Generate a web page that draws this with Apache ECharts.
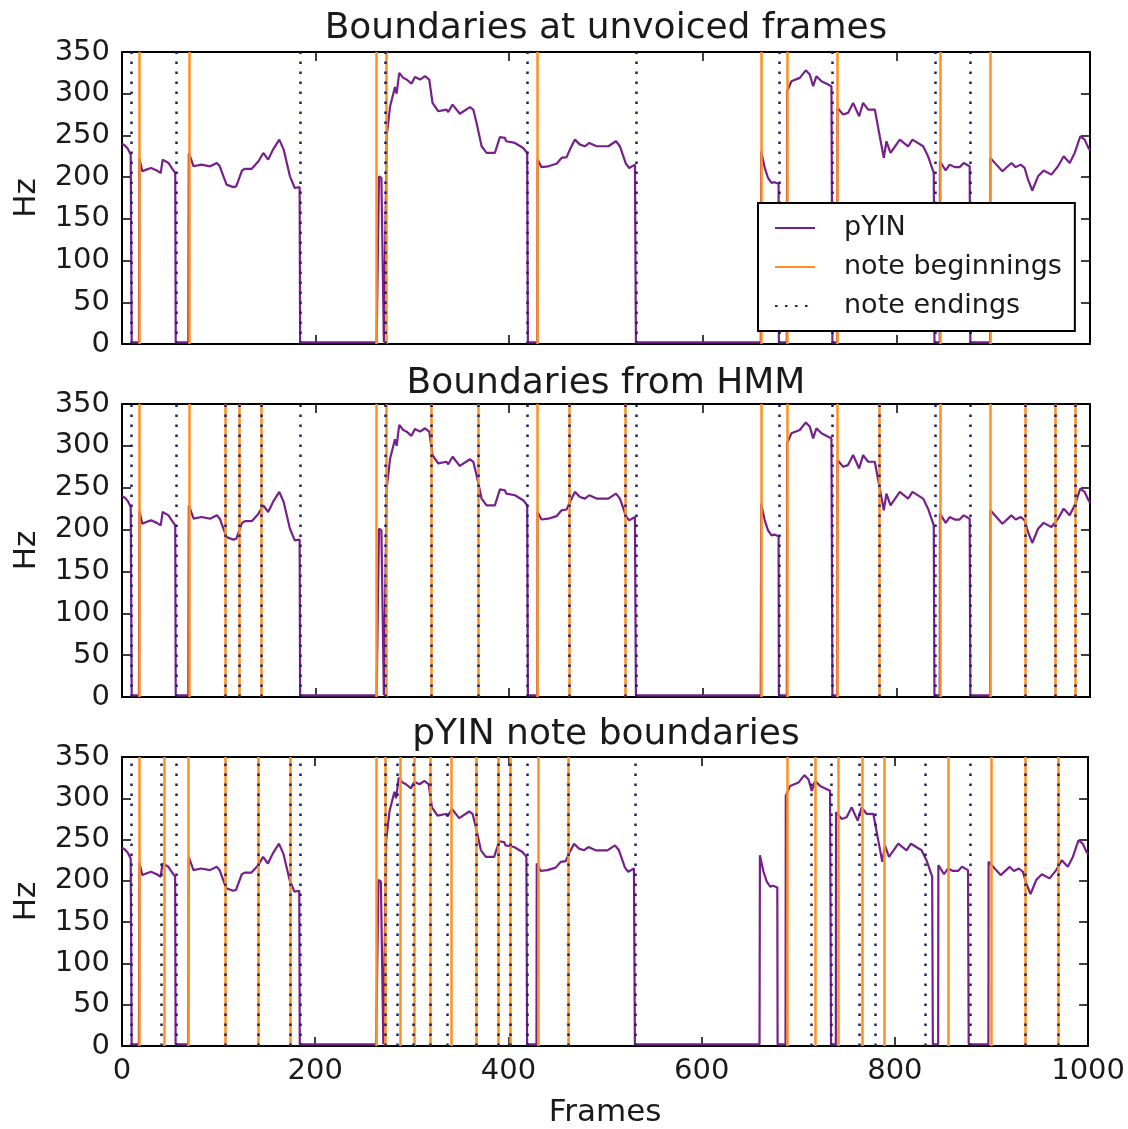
<!DOCTYPE html>
<html>
<head>
<meta charset="utf-8">
<script src="https://cdn.jsdelivr.net/npm/echarts@6/dist/echarts.min.js"></script>
<style>
  html, body { margin: 0; padding: 0; background: #fff; }
  #chart { width: 1128px; height: 1129px; }
</style>
</head>
<body>
<div id="chart"></div>
<script>
// pitch track (frame, Hz); unvoiced frames sit at ~2 Hz
const frames = [0, 3, 6, 9, 10, 17.5, 18, 21, 25, 30, 36, 40, 42, 48, 52, 55, 55.5, 68.5, 69, 74, 82, 91, 98, 101, 108, 115, 118, 124, 127, 134, 141, 146, 151, 156, 162.5, 167, 173.5, 178.5, 183.5, 184,
  263, 265.5, 268, 270, 270.5, 272.5, 273.5, 277, 282, 283.7, 286.4, 290.5, 294, 299, 302.6, 308, 313, 317.4, 320.8, 326.6, 328.4, 335.3, 337, 341.5, 349, 359.4, 362.9, 366.3, 371.5, 376.6, 385.2, 390.4, 395.5, 397, 399, 405.9, 414.5, 418.6, 419.3,
  429, 429.3, 433.4, 440.3, 448.9, 454.1, 459.3, 462.7, 467.9, 473.1, 478.2, 482.7, 490.3, 497.2, 502.4, 510.3, 514.4, 520.6, 524, 529.9, 530.9,
  659.9, 660.3, 664, 667.4, 669, 671, 674, 676, 678.3, 678.6, 686.8, 687.1, 691.6, 700.2, 706.4, 710.5, 714, 717.4, 722.6, 729.5, 732.9, 733.9,
  738.9, 739.1, 745, 750, 755.3, 761.5, 765.6, 770.8, 777.7, 782.8, 787, 789.7, 793.9, 803.5, 812.1, 816.6, 827.6, 832.7, 838.6, 839.3,
  844.8, 845, 850.9, 855, 860.2, 865.3, 869.5, 875.7, 876.4, 896.8, 897, 903.3, 909.5, 918.8, 923.2, 928.4, 932.5, 936, 940.4, 946.3, 952.1, 960.1, 967, 972.8, 979, 984.2, 990, 994.5, 998, 1000];
const pitchHz = [240, 238, 234, 227, 2, 2, 222, 207, 209, 211, 208, 205, 221, 217, 210, 205, 2, 2, 229, 213, 215, 213, 217, 213, 191, 188, 189, 208, 210, 210, 219, 229, 221, 233, 245, 233, 201, 187, 188, 2,
  2, 201, 199, 201, 2, 2, 250, 285, 308, 300, 325, 319, 317, 312, 320, 317, 321, 317, 289, 279, 277, 281, 278, 287, 276, 284, 281, 265, 237, 229, 229, 248, 247, 243, 244, 241, 235, 229, 2,
  2, 221, 212, 213, 216, 223, 224, 233, 245, 239, 237, 241, 237, 237, 237, 243, 237, 216, 211, 215, 2,
  2, 231, 211, 199, 200, 193, 194, 192, 192, 2, 2, 303, 315, 319, 328, 323, 309, 321, 315, 311, 309, 2,
  2, 283, 275, 277, 289, 273, 289, 281, 281, 249, 223, 243, 229, 245, 237, 245, 237, 225, 205, 2,
  2, 219, 208, 215, 212, 212, 217, 213, 2, 2, 223, 215, 207, 217, 212, 215, 211, 197, 184, 201, 208, 203, 213, 225, 217, 229, 249, 245, 236, 232];

// boundary frames per panel
const unvoicedBeginnings = [18, 69, 263, 273, 429, 660, 687, 739, 845, 897];
const unvoicedEndings = [9.5, 56, 184, 272, 419, 531, 678.5, 734, 840, 876.5];
const hmmBeginnings = [18, 69, 106.5, 121, 143.5, 263, 273, 319, 368.5, 429, 462.5, 519.5, 660, 687, 739, 782, 845, 897, 933.5, 964.5, 985];
const hmmEndings = [9.5, 56, 106.5, 121, 143.5, 184, 272, 319, 368.5, 419, 462.5, 519.5, 531, 678.5, 734, 782, 840, 876.5, 933.5, 964.5, 985];
const pyinBeginnings = [18, 44, 69, 106.5, 141, 174.5, 263, 273, 288, 302, 319, 340.5, 367, 389, 401.5, 431, 462, 689, 718, 741.5, 766, 789, 855, 900, 935, 969.5];
const pyinEndings = [9.5, 41, 56, 106.5, 141, 174.5, 184, 272, 284.5, 301, 319, 337, 367, 389, 401.5, 419, 462, 531, 713, 734.5, 763, 780, 831.5, 878, 935, 969.5];

const panelTitles = ["Boundaries at unvoiced frames", "Boundaries from HMM", "pYIN note boundaries"];
const seriesNames = ["pYIN", "note beginnings", "note endings"];
const xTicks = [0, 200, 400, 600, 800, 1000];
const yTicks = [0, 50, 100, 150, 200, 250, 300, 350];

const panels = [
  { title: panelTitles[0], begins: unvoicedBeginnings, ends: unvoicedEndings },
  { title: panelTitles[1], begins: hmmBeginnings, ends: hmmEndings },
  { title: panelTitles[2], begins: pyinBeginnings, ends: pyinEndings }
];

const FONT = "DejaVu Sans";
const INK = "#1a1a1a";
const PURPLE = "#76218b";
const ORANGE = "#ff8f1f";
const NAVY = "#1b2266";

const gridBoxes = [
  { left: 122, top: 52, width: 968, height: 292 },
  { left: 122, top: 404, width: 968, height: 293 },
  { left: 122, top: 757, width: 968, height: 292 }
];
const titleTops = [11, 366, 717];

const pitchData = frames.map((f, k) => [f, pitchHz[k]]);

const xAxes = [], yAxes = [], series = [], titles = [];
panels.forEach((p, i) => {
  const last = i === panels.length - 1;
  const axisLine = { show: true, onZero: false, lineStyle: { color: "#000", width: 2 } };
  const tick = { show: true, inside: true, length: 9, lineStyle: { color: "#000", width: 1.5 } };
  xAxes.push({
    gridIndex: i, type: "value", position: "bottom",
    min: xTicks[0], max: xTicks[xTicks.length - 1], interval: xTicks[1] - xTicks[0],
    axisLine, axisTick: tick, splitLine: { show: false },
    axisLabel: { show: last, fontSize: 29, color: INK, fontFamily: FONT, margin: 11, formatter: v => String(v) },
    name: last ? "Frames" : "", nameLocation: "middle", nameGap: 51,
    nameTextStyle: { fontSize: 31, color: INK, fontFamily: FONT }
  });
  xAxes.push({
    gridIndex: i, type: "value", position: "top",
    min: xTicks[0], max: xTicks[xTicks.length - 1], interval: xTicks[1] - xTicks[0],
    axisLine, axisTick: tick, splitLine: { show: false }, axisLabel: { show: false }
  });
  yAxes.push({
    gridIndex: i, type: "value", position: "left",
    min: yTicks[0], max: yTicks[yTicks.length - 1], interval: yTicks[1] - yTicks[0],
    axisLine, axisTick: tick, splitLine: { show: false },
    axisLabel: { fontSize: 29, color: INK, fontFamily: FONT, margin: 12 },
    name: "Hz", nameLocation: "middle", nameGap: 80, nameRotate: 90,
    nameTextStyle: { fontSize: 31, color: INK, fontFamily: FONT }
  });
  yAxes.push({
    gridIndex: i, type: "value", position: "right",
    min: yTicks[0], max: yTicks[yTicks.length - 1], interval: yTicks[1] - yTicks[0],
    axisLine, axisTick: tick, splitLine: { show: false }, axisLabel: { show: false }
  });

  titles.push({
    text: p.title, left: 606, top: titleTops[i], textAlign: "center", padding: 0,
    textStyle: { fontSize: 36, fontWeight: "normal", color: INK, fontFamily: FONT }
  });

  series.push({
    name: seriesNames[0], type: "line", xAxisIndex: 2 * i, yAxisIndex: 2 * i,
    data: pitchData, symbol: "none", showSymbol: false, color: PURPLE,
    lineStyle: { color: PURPLE, width: 2.2 }, z: 2, silent: true
  });
  series.push({
    name: seriesNames[1], type: "line", xAxisIndex: 2 * i, yAxisIndex: 2 * i,
    data: [], symbol: "none", color: ORANGE, lineStyle: { color: ORANGE, width: 2.5 }, z: 3,
    markLine: {
      silent: true, symbol: ["none", "none"], label: { show: false },
      lineStyle: { color: ORANGE, width: 2.5, type: "solid" },
      emphasis: { disabled: true },
      data: p.begins.map(x => ({ xAxis: x }))
    }
  });
  series.push({
    name: seriesNames[2], type: "line", xAxisIndex: 2 * i, yAxisIndex: 2 * i,
    data: [], symbol: "none", color: NAVY,
    lineStyle: { color: NAVY, width: 2.5, type: [2.5, 7.5], cap: "butt" }, z: 4,
    markLine: {
      silent: true, symbol: ["none", "none"], label: { show: false },
      lineStyle: { color: NAVY, width: 2.5, type: [2.5, 7.5], cap: "butt" },
      emphasis: { disabled: true },
      data: p.ends.map(x => ({ xAxis: x }))
    }
  });
});

const chart = echarts.init(document.getElementById("chart"));
chart.setOption({
  animation: false,
  backgroundColor: "#fff",
  title: titles,
  grid: gridBoxes,
  xAxis: xAxes,
  yAxis: yAxes,
  legend: {
    data: seriesNames, orient: "vertical", left: 758, top: 203,
    padding: [10, 13, 10, 16], itemWidth: 40, itemHeight: 20, itemGap: 9,
    backgroundColor: "#fff", borderColor: "#000", borderWidth: 2, borderRadius: 0,
    selectedMode: false, z: 10,
    itemStyle: { opacity: 0 },
    textStyle: { fontSize: 27, color: INK, fontFamily: FONT, lineHeight: 30, padding: [0, 0, 0, 24] }
  },
  series
});
</script>
</body>
</html>
